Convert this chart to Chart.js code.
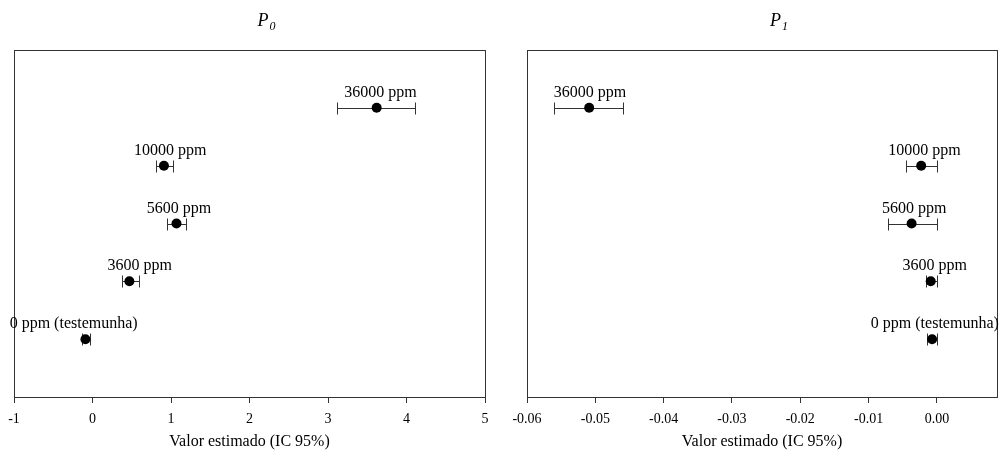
<!DOCTYPE html>
<html>
<head>
<meta charset="utf-8">
<script src="https://cdn.jsdelivr.net/npm/chart.js@4.4.0/dist/chart.umd.min.js"></script>
<style>
  html, body { margin: 0; padding: 0; background: #fff; overflow: hidden; }
  #wrap { position: relative; width: 999px; height: 459px; overflow: hidden; }
  canvas { position: absolute; top: 0; }
</style>
</head>
<body>
<div id="wrap">
  <canvas id="c0" width="500" height="459" style="left:0"></canvas>
  <canvas id="c1" width="502" height="459" style="left:500px"></canvas>
</div>
<script>
// Doses, bottom to top
const doses = ['0 ppm (testemunha)', '3600 ppm', '5600 ppm', '10000 ppm', '36000 ppm'];
const rows = [1, 2, 3, 4, 5];

// P0 estimates and 95% CI
const p0Est  = [-0.09, 0.47, 1.07, 0.91, 3.62];
const p0Low  = [-0.14, 0.37, 0.95, 0.81, 3.11];
const p0High = [-0.03, 0.59, 1.19, 1.02, 4.11];
const p0LabelX = [-0.24, 0.60, 1.10, 0.99, 3.67];
const p0Ticks = [-1, 0, 1, 2, 3, 4, 5];

// P1 estimates and 95% CI
const p1Est  = [-0.0007, -0.0009, -0.0037, -0.0023, -0.0509];
const p1Low  = [-0.0015, -0.0016, -0.0072, -0.0045, -0.0560];
const p1High = [0.0000, 0.0000, 0.0000, 0.0000, -0.0459];
const p1LabelX = [-0.0003, -0.0003, -0.0033, -0.0018, -0.0508];
const p1Ticks = [-0.06, -0.05, -0.04, -0.03, -0.02, -0.01, 0.00];

const serif = 'Liberation Serif, Times New Roman, serif';

function makeChart(id, sub, est, low, high, labelX, ticks, xMin, xMax, fmt, padL, padR) {
    const decor = {
        id: 'decor' + id,
        beforeDatasetsDraw(chart) {
            const ctx = chart.ctx, x = chart.scales.x, y = chart.scales.y;
            ctx.save();
            ctx.strokeStyle = '#333';
            ctx.lineWidth = 1;
            est.forEach((v, i) => {
                const py = Math.round(y.getPixelForValue(rows[i])) + 0.5;
                const x1 = Math.round(x.getPixelForValue(low[i])) + 0.5;
                const x2 = Math.round(x.getPixelForValue(high[i])) + 0.5;
                ctx.beginPath();
                ctx.moveTo(x1, py); ctx.lineTo(x2, py);
                ctx.moveTo(x1, py - 6); ctx.lineTo(x1, py + 6);
                ctx.moveTo(x2, py - 6); ctx.lineTo(x2, py + 6);
                ctx.stroke();
            });
            ctx.restore();
        },
        afterDatasetsDraw(chart) {
            const ctx = chart.ctx, x = chart.scales.x, y = chart.scales.y, a = chart.chartArea;
            ctx.save();
            // plot frame
            ctx.strokeStyle = '#333';
            ctx.lineWidth = 1;
            ctx.strokeRect(Math.round(a.left) + 0.5, Math.round(a.top) + 0.5,
                Math.round(a.right - a.left), Math.round(a.bottom - a.top));
            // dose labels
            ctx.fillStyle = '#000';
            ctx.font = '16px ' + serif;
            ctx.textAlign = 'center';
            ctx.textBaseline = 'alphabetic';
            doses.forEach((d, i) => {
                ctx.fillText(d, x.getPixelForValue(labelX[i]), y.getPixelForValue(rows[i]) - 11);
            });
            // panel title P with subscript
            const cx = (a.left + a.right) / 2 + 8;
            ctx.textAlign = 'left';
            ctx.font = 'italic 18px ' + serif;
            ctx.fillText('P', cx, 26);
            const w = ctx.measureText('P').width;
            ctx.font = 'italic 12px ' + serif;
            ctx.fillText(sub, cx + w + 1, 30);
            ctx.restore();
        }
    };

    return new Chart(document.getElementById(id), {
        type: 'scatter',
        data: {
            datasets: [{
                data: est.map((v, i) => ({ x: v, y: rows[i] })),
                pointRadius: 5,
                pointBackgroundColor: '#000',
                pointBorderColor: '#000',
                pointBorderWidth: 0
            }]
        },
        options: {
            responsive: false,
            animation: false,
            layout: { padding: { left: padL, right: padR, top: 50, bottom: 0 } },
            plugins: { legend: { display: false }, tooltip: { enabled: false } },
            scales: {
                x: {
                    type: 'linear',
                    min: xMin,
                    max: xMax,
                    afterBuildTicks: s => { s.ticks = ticks.map(v => ({ value: v })); },
                    afterFit: s => { s.height = 62; },
                    grid: { drawOnChartArea: false, drawTicks: true, tickLength: 6, color: '#333' },
                    border: { display: true, color: '#333' },
                    ticks: {
                        color: '#000',
                        font: { family: serif, size: 14 },
                        padding: 8,
                        maxRotation: 0,
                        autoSkip: false,
                        callback: fmt
                    },
                    title: {
                        display: true,
                        text: 'Valor estimado (IC 95%)',
                        color: '#000',
                        font: { family: serif, size: 16 },
                        padding: { top: 4, bottom: 8 }
                    }
                },
                y: { type: 'linear', min: 0, max: 6, display: false }
            }
        },
        plugins: [decor]
    });
}

makeChart('c0', '0', p0Est, p0Low, p0High, p0LabelX, p0Ticks, -1, 5,
    v => String(v), 14, 15);
makeChart('c1', '1', p1Est, p1Low, p1High, p1LabelX, p1Ticks, -0.06, 0.0088,
    v => Number(v).toFixed(2), 27, 0);
</script>
</body>
</html>
